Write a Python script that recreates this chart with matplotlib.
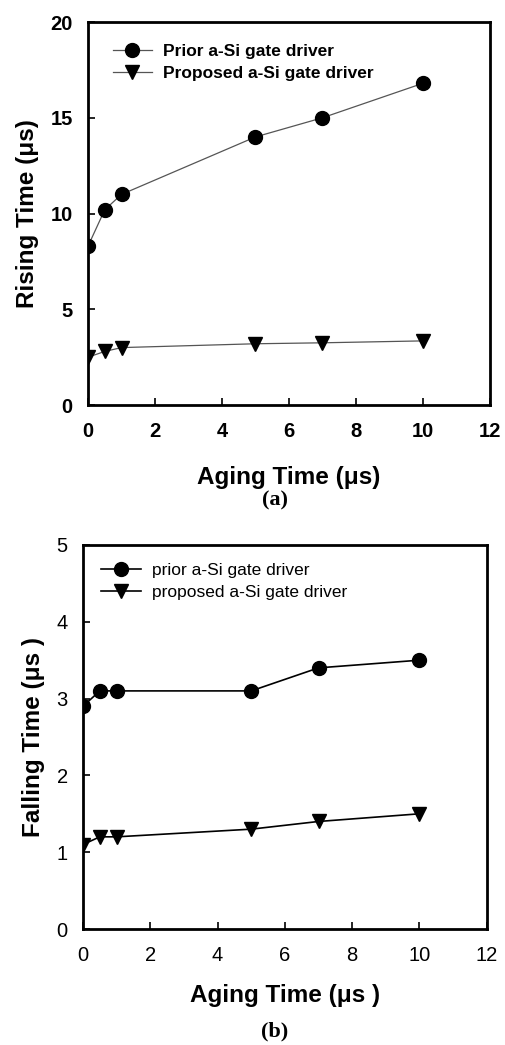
import matplotlib
matplotlib.use('Agg')
import matplotlib.pyplot as plt

# data
aging = [0, 0.5, 1, 5, 7, 10]
rise_prior = [8.3, 10.2, 11.0, 14.0, 15.0, 16.8]
rise_proposed = [2.5, 2.8, 3.0, 3.2, 3.25, 3.35]
fall_prior = [2.9, 3.1, 3.1, 3.1, 3.4, 3.5]
fall_proposed = [1.1, 1.2, 1.2, 1.3, 1.4, 1.5]

sans = 'Liberation Sans'
serif = 'Liberation Serif'
plt.rcParams['font.family'] = sans

fig = plt.figure(figsize=(5.06, 10.45), dpi=100)

def style_axes(ax, ymax, ystep, bold_ticks):
    ax.set_xlim(0, 12)
    ax.set_ylim(0, ymax)
    ax.set_xticks(range(0, 13, 2))
    ax.set_yticks([i * ystep for i in range(int(ymax / ystep) + 1)])
    ax.tick_params(direction='in', length=5, width=1.2, labelsize=14.5)
    ax.tick_params(axis='x', pad=12)
    ax.tick_params(axis='y', pad=11)
    for lab in ax.get_xticklabels() + ax.get_yticklabels():
        lab.set_fontweight('bold' if bold_ticks else 'normal')
    for s in ax.spines.values():
        s.set_linewidth(2)

# (a) rising time
ax1 = fig.add_axes([0.174, 0.6124, 0.794, 0.3665])
ax1.plot(aging, rise_prior, color='#555555', lw=0.9, marker='o', ms=10,
         mfc='black', mec='black', label='Prior a-Si gate driver')
ax1.plot(aging, rise_proposed, color='#555555', lw=0.9, marker='v', ms=10,
         mfc='black', mec='black', label='Proposed a-Si gate driver')
style_axes(ax1, 20, 5, True)
ax1.set_xlabel('Aging Time (\u03bcs)', fontsize=17.5, fontweight='bold', labelpad=18)
ax1.set_ylabel('Rising Time (\u03bcs)', fontsize=17.5, fontweight='bold', labelpad=8)
ax1.legend(loc='upper left', frameon=False, prop={'family': sans, 'weight': 'bold', 'size': 12.5},
           handlelength=2.3, borderaxespad=0.2, labelspacing=0.4, handletextpad=0.6,
           bbox_to_anchor=(0.035, 0.97))
fig.text(0.543, 0.521, '(a)', fontsize=16, fontweight='bold', family=serif, ha='center', va='center')

# (b) falling time
ax2 = fig.add_axes([0.164, 0.111, 0.798, 0.3675])
ax2.plot(aging, fall_prior, color='black', lw=1.2, marker='o', ms=10,
         mfc='black', mec='black', label='prior a-Si gate driver')
ax2.plot(aging, fall_proposed, color='black', lw=1.2, marker='v', ms=10,
         mfc='black', mec='black', label='proposed a-Si gate driver')
style_axes(ax2, 5, 1, False)
ax2.set_xlabel('Aging Time (\u03bcs )', fontsize=17.5, fontweight='bold', labelpad=14)
ax2.set_ylabel('Falling Time (\u03bcs )', fontsize=17.5, fontweight='bold', labelpad=8)
ax2.legend(loc='upper left', frameon=False, prop={'family': sans, 'size': 12.5},
           handlelength=2.3, borderaxespad=0.2, labelspacing=0.4, handletextpad=0.6,
           bbox_to_anchor=(0.02, 0.98))
fig.text(0.543, 0.013, '(b)', fontsize=16, fontweight='bold', family=serif, ha='center', va='center')

fig.savefig('out.png', dpi=100)
